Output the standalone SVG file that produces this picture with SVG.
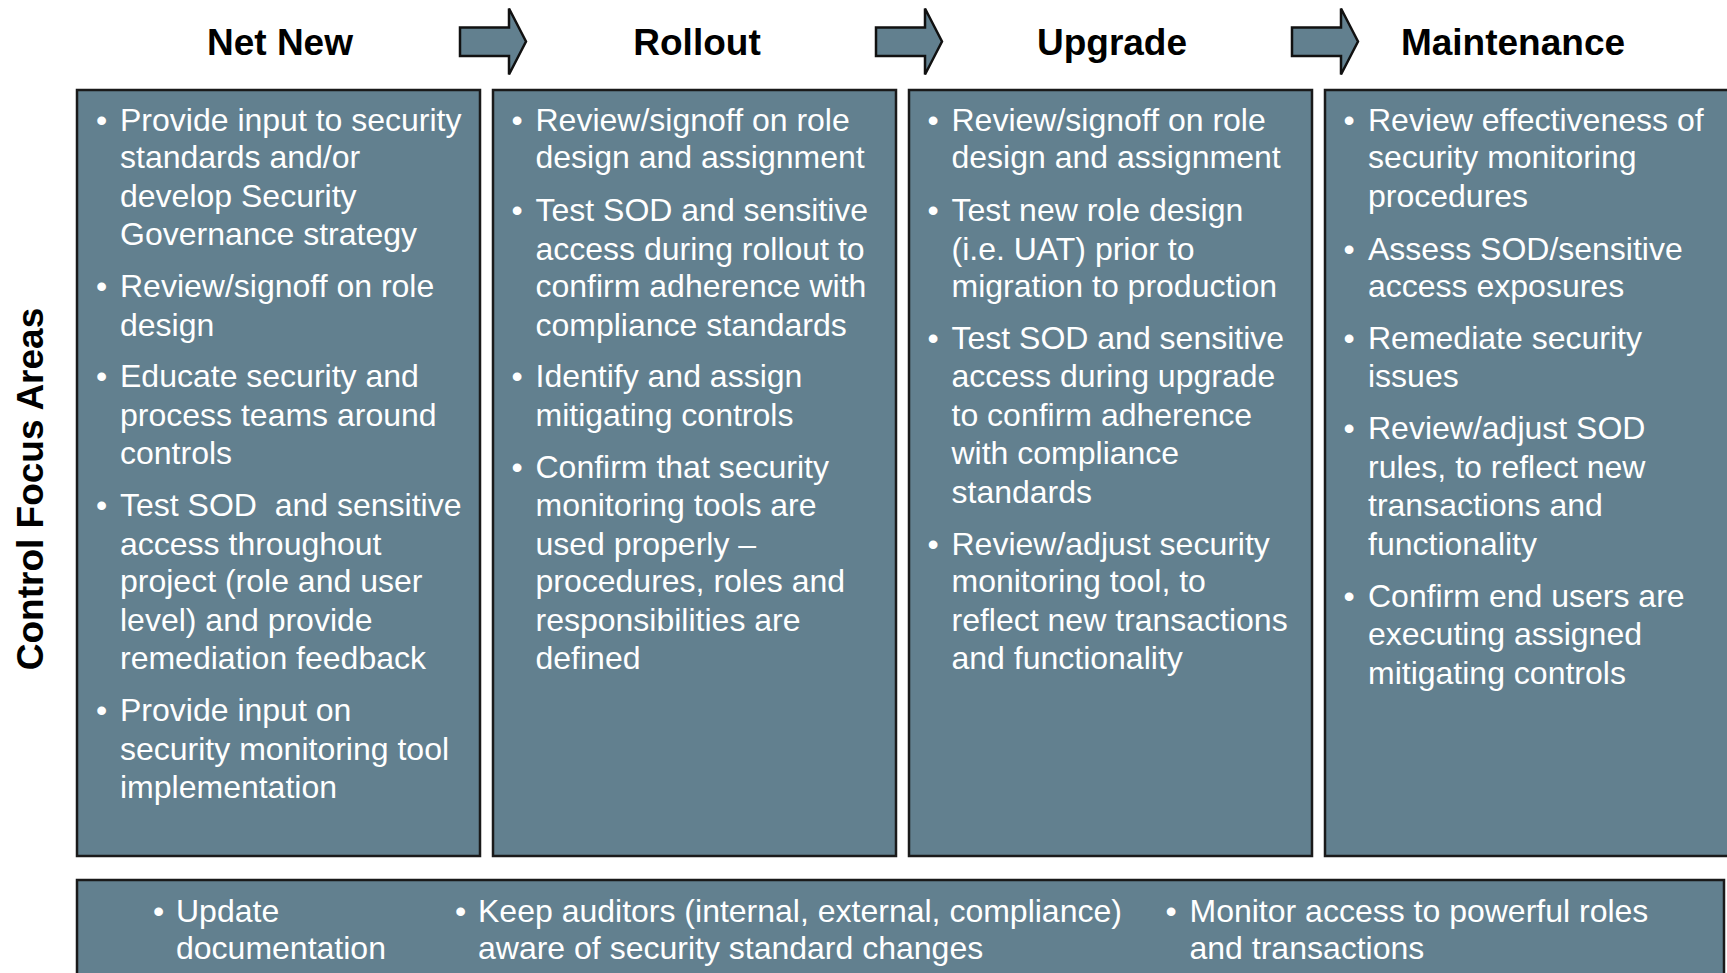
<svg xmlns="http://www.w3.org/2000/svg" width="1727" height="973" viewBox="0 0 1727 973">
<style>
.box{fill:#62808f;stroke:#1a1a1a;stroke-width:2.5}
.arr{fill:#62808f;stroke:#111;stroke-width:2.5;stroke-linejoin:miter}
.hd{font-family:"Liberation Sans",Arial,sans-serif;font-weight:bold;font-size:37px;fill:#000;text-anchor:middle}
.t{font-family:"Liberation Sans",Arial,sans-serif;font-size:32px;fill:#fff}
.b{font-family:"Liberation Sans",Arial,sans-serif;font-size:32px;fill:#fff;text-anchor:middle}
</style>
<rect width="1727" height="973" fill="#fff"/>

<g id="label-control-focus">
<text class="hd" transform="translate(43,489) rotate(-90)">Control Focus Areas</text>
</g>

<g id="header-netnew"><text class="hd" x="280" y="55">Net New</text></g>
<g id="header-rollout"><text class="hd" x="697" y="55">Rollout</text></g>
<g id="header-upgrade"><text class="hd" x="1112" y="55">Upgrade</text></g>
<g id="header-maintenance"><text class="hd" x="1513" y="55">Maintenance</text></g>

<g id="connectors">
<path class="arr" d="M460,27.5 H509 V8.5 L526,41.5 L509,74.5 V56 H460 Z"/>
<path class="arr" d="M876,27.5 H925 V8.5 L942,41.5 L925,74.5 V56 H876 Z"/>
<path class="arr" d="M1292,27.5 H1341 V8.5 L1358,41.5 L1341,74.5 V56 H1292 Z"/>
</g>

<g id="box-netnew">
<rect class="box" x="77" y="90" width="403" height="766"/>
<text class="b" x="101.5" y="130.7">•</text>
<text class="t" x="120" y="130.7">Provide input to security</text>
<text class="t" x="120" y="168.1">standards and/or</text>
<text class="t" x="120" y="206.6">develop Security</text>
<text class="t" x="120" y="245.2">Governance strategy</text>
<text class="b" x="101.5" y="297">•</text>
<text class="t" x="120" y="297">Review/signoff on role</text>
<text class="t" x="120" y="335.5">design</text>
<text class="b" x="101.5" y="387.3">•</text>
<text class="t" x="120" y="387.3">Educate security and</text>
<text class="t" x="120" y="425.8">process teams around</text>
<text class="t" x="120" y="464.4">controls</text>
<text class="b" x="101.5" y="516.1">•</text>
<text class="t" x="120" y="516.1" xml:space="preserve">Test SOD  and sensitive</text>
<text class="t" x="120" y="554.7">access throughout</text>
<text class="t" x="120" y="592.1">project (role and user</text>
<text class="t" x="120" y="630.7">level) and provide</text>
<text class="t" x="120" y="669.2">remediation feedback</text>
<text class="b" x="101.5" y="721">•</text>
<text class="t" x="120" y="721">Provide input on</text>
<text class="t" x="120" y="759.5">security monitoring tool</text>
<text class="t" x="120" y="798.1">implementation</text>
</g>

<g id="box-rollout">
<rect class="box" x="493" y="90" width="403" height="766"/>
<text class="b" x="517" y="130.7">•</text>
<text class="t" x="535.5" y="130.7">Review/signoff on role</text>
<text class="t" x="535.5" y="168.1">design and assignment</text>
<text class="b" x="517" y="221">•</text>
<text class="t" x="535.5" y="221">Test SOD and sensitive</text>
<text class="t" x="535.5" y="259.5">access during rollout to</text>
<text class="t" x="535.5" y="297">confirm adherence with</text>
<text class="t" x="535.5" y="335.5">compliance standards</text>
<text class="b" x="517" y="387.3">•</text>
<text class="t" x="535.5" y="387.3">Identify and assign</text>
<text class="t" x="535.5" y="425.8">mitigating controls</text>
<text class="b" x="517" y="477.6">•</text>
<text class="t" x="535.5" y="477.6">Confirm that security</text>
<text class="t" x="535.5" y="516.1">monitoring tools are</text>
<text class="t" x="535.5" y="554.7">used properly –</text>
<text class="t" x="535.5" y="592.1">procedures, roles and</text>
<text class="t" x="535.5" y="630.7">responsibilities are</text>
<text class="t" x="535.5" y="669.2">defined</text>
</g>

<g id="box-upgrade">
<rect class="box" x="909" y="90" width="403" height="766"/>
<text class="b" x="933" y="130.7">•</text>
<text class="t" x="951.5" y="130.7">Review/signoff on role</text>
<text class="t" x="951.5" y="168.1">design and assignment</text>
<text class="b" x="933" y="221">•</text>
<text class="t" x="951.5" y="221">Test new role design</text>
<text class="t" x="951.5" y="259.5">(i.e. UAT) prior to</text>
<text class="t" x="951.5" y="297">migration to production</text>
<text class="b" x="933" y="348.7">•</text>
<text class="t" x="951.5" y="348.7">Test SOD and sensitive</text>
<text class="t" x="951.5" y="387.3">access during upgrade</text>
<text class="t" x="951.5" y="425.8">to confirm adherence</text>
<text class="t" x="951.5" y="464.4">with compliance</text>
<text class="t" x="951.5" y="502.9">standards</text>
<text class="b" x="933" y="554.7">•</text>
<text class="t" x="951.5" y="554.7">Review/adjust security</text>
<text class="t" x="951.5" y="592.1">monitoring tool, to</text>
<text class="t" x="951.5" y="630.7">reflect new transactions</text>
<text class="t" x="951.5" y="669.2">and functionality</text>
</g>

<g id="box-maintenance">
<rect class="box" x="1325" y="90" width="420" height="766"/>
<text class="b" x="1349" y="130.7">•</text>
<text class="t" x="1368" y="130.7">Review effectiveness of</text>
<text class="t" x="1368" y="168.1">security monitoring</text>
<text class="t" x="1368" y="206.6">procedures</text>
<text class="b" x="1349" y="259.5">•</text>
<text class="t" x="1368" y="259.5">Assess SOD/sensitive</text>
<text class="t" x="1368" y="297">access exposures</text>
<text class="b" x="1349" y="348.7">•</text>
<text class="t" x="1368" y="348.7">Remediate security</text>
<text class="t" x="1368" y="387.3">issues</text>
<text class="b" x="1349" y="439">•</text>
<text class="t" x="1368" y="439">Review/adjust SOD</text>
<text class="t" x="1368" y="477.6">rules, to reflect new</text>
<text class="t" x="1368" y="516.1">transactions and</text>
<text class="t" x="1368" y="554.7">functionality</text>
<text class="b" x="1349" y="606.5">•</text>
<text class="t" x="1368" y="606.5">Confirm end users are</text>
<text class="t" x="1368" y="645">executing assigned</text>
<text class="t" x="1368" y="683.6">mitigating controls</text>
</g>

<g id="box-ongoing">
<rect class="box" x="77" y="880" width="1647" height="120"/>
<text class="b" x="158.5" y="921.5">•</text>
<text class="t" x="176" y="921.5">Update</text>
<text class="t" x="176" y="959">documentation</text>
<text class="b" x="460.5" y="921.5">•</text>
<text class="t" x="478" y="921.5">Keep auditors (internal, external, compliance)</text>
<text class="t" x="478" y="959">aware of security standard changes</text>
<text class="b" x="1171" y="921.5">•</text>
<text class="t" x="1189.5" y="921.5">Monitor access to powerful roles</text>
<text class="t" x="1189.5" y="959">and transactions</text>
</g>
</svg>
